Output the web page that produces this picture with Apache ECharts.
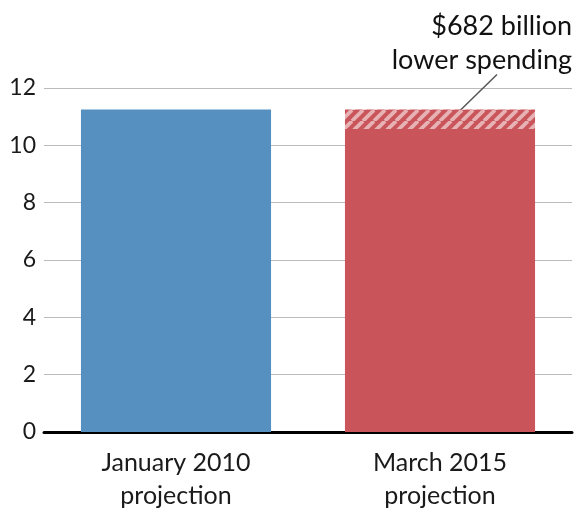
<!DOCTYPE html>
<html><head><meta charset="utf-8">
<script src="https://cdn.jsdelivr.net/npm/echarts@6/dist/echarts.min.js"></script>
<style>html,body{margin:0;padding:0;background:#fff}#c{width:580px;height:512px}</style>
</head><body><div id="c"></div>
<script>
const categories = ['January 2010\nprojection', 'March 2015\nprojection'];
const totalSpending = [11.25, 11.25];
const savings = [0, 0.682];
const yTicks = [0, 2, 4, 6, 8, 10, 12];
const annotationText = ['$682 billion', 'lower spending'];

const baseValues = totalSpending.map((v, i) => +(v - savings[i]).toFixed(3));
const hatchValues = savings.map(v => v > 0 ? v : '-');

function hatchPattern() {
  const c = document.createElement('canvas');
  const s = 11;
  c.width = s; c.height = s;
  const g = c.getContext('2d');
  g.fillStyle = '#c9545a';
  g.fillRect(0, 0, s, s);
  g.strokeStyle = 'rgba(255,255,255,0.55)';
  g.lineWidth = 3.8;
  for (let k = -1; k <= 1; k++) {
    g.beginPath();
    g.moveTo(k * s, s);
    g.lineTo(k * s + s, 0);
    g.stroke();
  }
  return c;
}

const chart = echarts.init(document.getElementById('c'), null, {renderer: 'canvas'});
const font = 'Lato, "Open Sans", sans-serif';
chart.setOption({
  animation: false,
  grid: {left: 44, right: 8, top: 88, bottom: 77},
  xAxis: {
    type: 'category', data: categories,
    axisTick: {show: false},
    axisLine: {show: true, lineStyle: {color: '#000', width: 3}},
    axisLabel: {fontSize: 25, color: '#1a1a1a', fontFamily: font, lineHeight: 33, margin: 14}
  },
  yAxis: {
    type: 'value', min: yTicks[0], max: yTicks[yTicks.length - 1], interval: 2,
    axisLine: {show: false}, axisTick: {show: false},
    splitLine: {lineStyle: {color: '#bbb', width: 1}},
    axisLabel: {fontSize: 23, color: '#1a1a1a', fontFamily: font, margin: 8}
  },
  series: [
    {
      type: 'bar', stack: 's', barWidth: '72%',
      data: baseValues.map((v, i) => ({value: i === 0 ? totalSpending[i] : v,
        itemStyle: {color: i === 0 ? '#5690c1' : '#c9545a'}}))
    },
    {
      type: 'bar', stack: 's', barWidth: '72%',
      data: hatchValues,
      itemStyle: {color: {image: hatchPattern(), repeat: 'repeat'}}
    }
  ]
});

const barTop = chart.convertToPixel({xAxisIndex: 0, yAxisIndex: 0}, [1, totalSpending[1]]);
chart.setOption({
  graphic: [
    {type: 'line', shape: {x1: barTop[0] + 18, y1: barTop[1] + 3, x2: barTop[0] + 57, y2: barTop[1] - 35},
     style: {stroke: '#555', lineWidth: 1.5}},
    {type: 'text', x: 572, y: 9,
     style: {text: annotationText.join('\n'), font: '27px ' + font, fill: '#111', align: 'right', verticalAlign: 'top', lineHeight: 34}}
  ]
});
</script></body></html>
